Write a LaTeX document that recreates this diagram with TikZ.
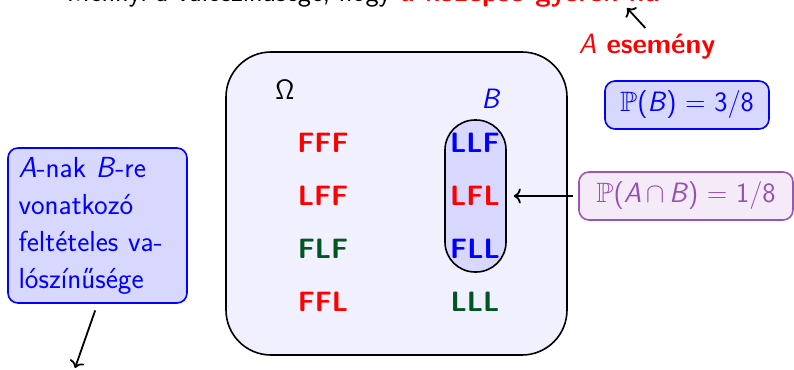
\RequirePackage{fix-cm}
\documentclass[tikz,border=0pt]{standalone}
\usepackage{amssymb}
\usetikzlibrary{arrows.meta}
\definecolor{omegafill}{RGB}{240,240,255}
\definecolor{bfill}{RGB}{216,216,255}
\definecolor{dgreen}{RGB}{0,85,35}
\definecolor{pborder}{RGB}{155,85,185}
\definecolor{ptext}{RGB}{150,80,180}
\definecolor{pfill}{RGB}{244,234,248}
\begin{document}
\begin{tikzpicture}[x=1pt,y=-1pt,
  font=\fontsize{28}{34}\selectfont\sffamily,
  outcome/.style={font=\fontsize{28}{34}\selectfont\sffamily\bfseries},
  redo/.style={outcome,text=red},
  greeno/.style={outcome,text=dgreen},
  blueo/.style={outcome,text=blue},
  topline/.style={inner sep=0pt,text height=20pt,text depth=6pt},
  bluebox/.style={draw=blue,fill=bfill,text=blue,line width=1.6pt,rounded corners=10pt},
  purplebox/.style={draw=pborder,fill=pfill,text=ptext,line width=1.6pt,rounded corners=10pt},
  arr/.style={-{To[length=7pt,width=15pt]},line width=1.8pt}]
\useasboundingbox (0,0) rectangle (794,369);
\fill[white] (0,0) rectangle (794,369);
% cropped top line
\begin{scope}
\clip (0,0) rectangle (794,369);
\node[topline,anchor=east] (qblack) at (391,-5) {Mennyi a valószínűsége, hogy};
\node[topline,anchor=west,text=red,font=\fontsize{28}{34}\selectfont\sffamily\bfseries] (qred) at (400,-5) {a középső gyerek fiú};
\end{scope}
% Omega box
\node[draw,fill=omegafill,line width=1.6pt,rounded corners=45pt,minimum width=341pt,minimum height=303pt] (om) at (396.5,203.5) {};
\node (omlab) at (285,90) {$\mathsf{\Omega}$};
% B pill
\node[draw,fill=bfill,line width=1.6pt,rounded corners=30pt,minimum width=61pt,minimum height=152pt] (pill) at (475.5,196) {};
\node[text=blue] (blab) at (491,99) {\textit{B}};
% outcomes
\node[redo] (fff) at (323,143) {FFF};
\node[redo] (lff) at (323,196) {LFF};
\node[greeno] (flf) at (323,249) {FLF};
\node[redo] (ffl) at (323,302) {FFL};
\node[blueo] (llf) at (475,143) {LLF};
\node[redo] (lfl) at (475,196) {LFL};
\node[blueo] (fll) at (475,249) {FLL};
\node[greeno] (lll) at (475,302) {LLL};
% A event label
\node[text=red,font=\fontsize{28}{34}\selectfont\sffamily\bfseries] (aev) at (647,47) {\textmd{\textit{A}} esemény};
\coordinate (atop) at (627,8);
\draw[arr,shorten <=4pt] ([xshift=1pt]aev.north) -- (atop);
% probability boxes
\node[bluebox,minimum width=164pt,minimum height=48pt] (pb) at (687,105) {$\mathbb{P}$(\textit{B}) $=$ 3/8};
\node[purplebox,minimum width=214pt,minimum height=48pt] (pab) at (686,196) {$\mathbb{P}$(\textit{A}\,$\cap$\,\textit{B}) $=$ 1/8};
\draw[arr,shorten <=5pt,shorten >=7pt] (pab.west) -- (pill.east);
% left box
\node[bluebox,minimum width=179pt,minimum height=155pt,align=left,font=\fontsize{29}{37}\selectfont\sffamily,text width=158pt] (lbox) at (97.5,225.5) {\textit{A}-nak \textit{B}-re\\vonatkozó\\feltételes va-\\lószínűsége};
\coordinate (abot) at (75,368);
\draw[arr,shorten <=7pt] (lbox.south) -- (abot);
\end{tikzpicture}
\end{document}
